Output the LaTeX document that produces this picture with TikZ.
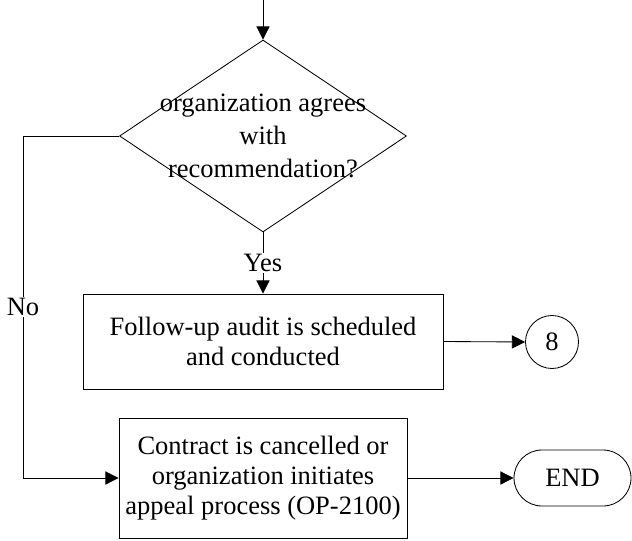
\documentclass[tikz,border=0pt]{standalone}
\usepackage{fontspec}
\setmainfont{Liberation Serif}
\usepackage{tikz}
\usetikzlibrary{arrows.meta}
\usetikzlibrary{shapes.geometric}
\usetikzlibrary{shapes.misc}

\begin{document}
\begin{tikzpicture}[
  every node/.style={font=\fontsize{18.85}{21.3}\selectfont},
  flowline/.style={draw=black,line width=0.6pt},
  arrowline/.style={flowline,-{Triangle[length=3.3mm,width=3.3mm]}},
  decision/.style={diamond,draw=black,line width=0.6pt,inner sep=0pt,minimum width=7.175cm,minimum height=4.8cm},
  process/.style={rectangle,draw=black,line width=0.6pt,align=center,inner sep=0pt},
  connector/.style={circle,draw=black,line width=0.6pt,inner sep=0pt,minimum size=1.325cm},
  terminal/.style={rounded rectangle,draw=black,line width=0.6pt,inner sep=0pt,minimum width=2.925cm,minimum height=1.4cm},
  branchlabel/.style={fill=white,inner sep=1pt}]
\useasboundingbox (0,0) rectangle (15.8,13.5);

\coordinate (start) at (6.575,13.5);
\node[decision] (agree) at (6.575,10.1) {};
\node[align=center,font=\fontsize{18.85}{23.5}\selectfont] (agreetext) at (6.575,10.1) {organization agrees\\with\\recommendation?};
\node[process,minimum width=9cm,minimum height=2.375cm] (audit) at (6.575,4.9625) {Follow-up audit is scheduled\\and conducted};
\node[connector] (page8) at (13.8,4.95) {8};
\node[process,minimum width=7.2cm,minimum height=3cm] (cancel) at (6.575,1.55) {Contract is cancelled or\\organization initiates\\appeal process (OP-2100)};
\node[terminal] (end) at (14.3125,1.55) {END};
\coordinate (noturn) at (0.575,10.1);

\draw[arrowline] (start) -- (agree.north);
\draw[arrowline] (agree.south) -- node[branchlabel] (yes) {Yes} (audit.north);
\draw[arrowline] (audit.east) -- (page8.west);
\draw[arrowline] (agree.west) -- (noturn) |- node[branchlabel,pos=0.25] (no) {No} (cancel.west);
\draw[arrowline] (cancel.east) -- (end.west);

\end{tikzpicture}
\end{document}
